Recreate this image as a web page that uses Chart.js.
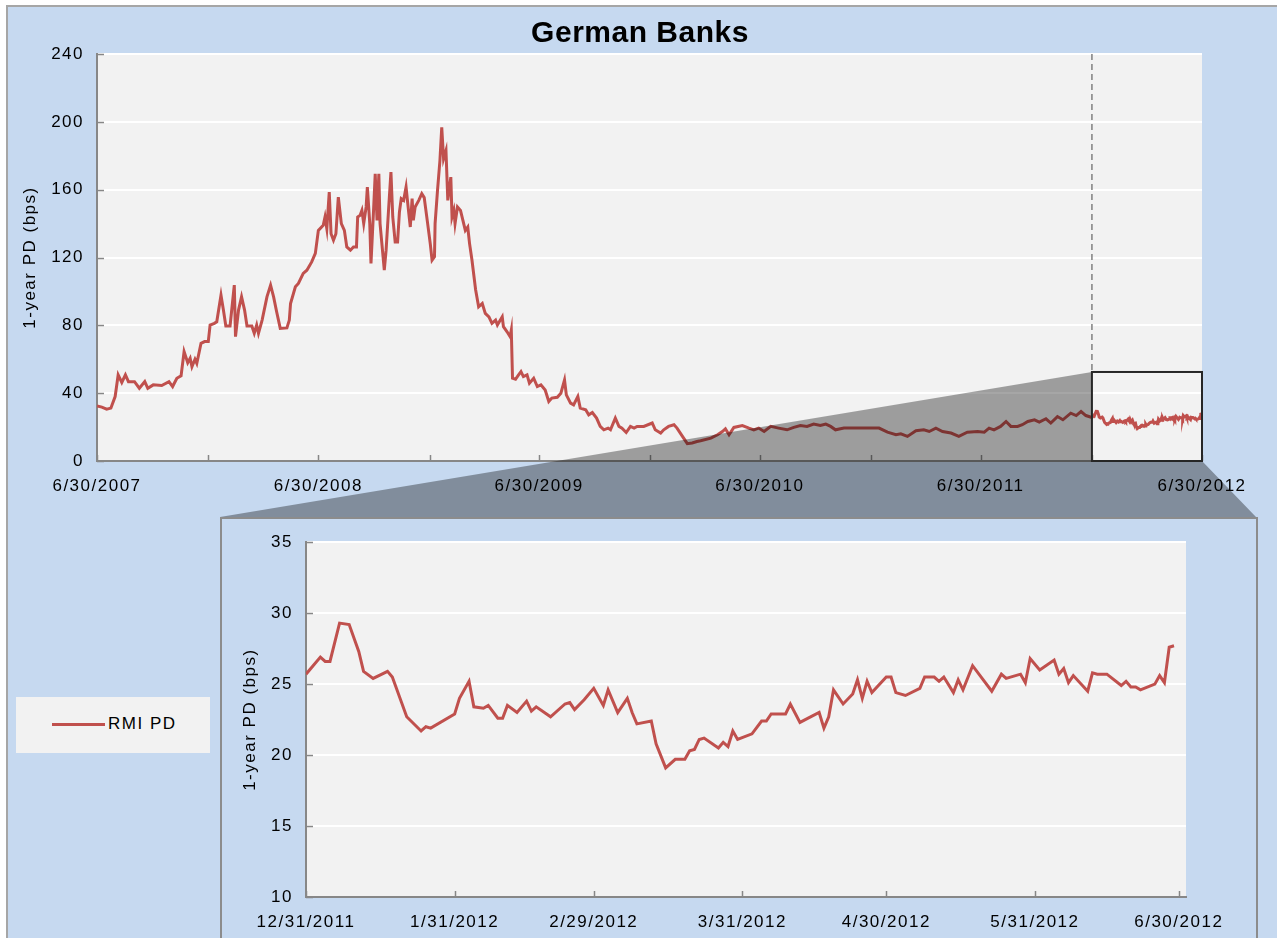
<!DOCTYPE html>
<html><head><meta charset="utf-8">
<script src="https://cdn.jsdelivr.net/npm/chart.js@4.4.1/dist/chart.umd.min.js"></script>
<style>
html,body{margin:0;padding:0;background:#fff;width:1277px;height:938px;overflow:hidden;font-family:'Liberation Sans',Arial,sans-serif;}
#frame{position:absolute;left:6px;top:5px;width:1280px;height:940px;background:#c6d9f0;border-left:2px solid #a6a6a6;border-top:2px solid #a6a6a6;}
#title{position:absolute;left:0;top:14px;width:1280px;text-align:center;font-weight:bold;font-size:30px;line-height:36px;letter-spacing:0.5px;color:#000;}
#mainWrap{position:absolute;left:0;top:0;width:1277px;height:520px;}
#inset{position:absolute;left:220px;top:517px;width:1034px;height:440px;background:#c6d9f0;border:2px solid #8c8c8c;}
#insetWrap{position:absolute;left:0;top:0;width:1034px;height:419px;}
#legend{position:absolute;left:16px;top:697px;width:194px;height:56px;background:#f2f2f2;}
#legend .sw{position:absolute;left:36px;top:26px;width:53px;height:3px;background:#c0504d;}
#legend .lt{position:absolute;left:92px;top:17px;font-size:17px;line-height:20px;letter-spacing:1.5px;color:#000;}
</style></head>
<body>
<div id="frame"></div>
<div id="mainWrap"><canvas id="mainChart"></canvas></div>
<div id="title"></div>
<div id="legend"><span class="sw"></span><span class="lt" id="legendText"></span></div>
<div id="inset"><div id="insetWrap"><canvas id="insetChart"></canvas></div></div>
<script>
const chartTitle = 'German Banks';
const seriesName = 'RMI PD';
const yTitle = '1-year PD (bps)';

// Main chart observations (6/30/2007 - 12/21/2011)
const mainDates = ['2007-06-30','2007-07-08','2007-07-16','2007-07-23','2007-07-30','2007-08-04','2007-08-10','2007-08-16','2007-08-21','2007-08-31','2007-09-08','2007-09-17','2007-09-22','2007-10-01','2007-10-15','2007-10-27','2007-11-02','2007-11-09','2007-11-16','2007-11-21','2007-11-27','2007-12-01','2007-12-04','2007-12-09','2007-12-12','2007-12-19','2007-12-25','2007-12-31',
'2008-01-03','2008-01-10','2008-01-14','2008-01-21','2008-01-25','2008-01-29','2008-02-05','2008-02-12','2008-02-14','2008-02-19','2008-02-24','2008-02-29','2008-03-04','2008-03-12','2008-03-16','2008-03-20','2008-03-23','2008-03-29','2008-04-06','2008-04-12','2008-04-17','2008-04-22','2008-04-28','2008-05-09','2008-05-13','2008-05-15','2008-05-23','2008-05-28','2008-06-05','2008-06-11','2008-06-19','2008-06-25','2008-06-30',
'2008-07-08','2008-07-11','2008-07-14','2008-07-18','2008-07-21','2008-07-25','2008-07-29','2008-08-02','2008-08-07','2008-08-12','2008-08-16','2008-08-22','2008-08-27','2008-09-01','2008-09-03','2008-09-07','2008-09-10','2008-09-13','2008-09-17','2008-09-19','2008-09-23','2008-09-25','2008-09-29','2008-10-02','2008-10-05','2008-10-08','2008-10-10','2008-10-13','2008-10-17','2008-10-20','2008-10-24','2008-10-28','2008-10-31','2008-11-04','2008-11-08','2008-11-11','2008-11-14','2008-11-18','2008-11-22','2008-11-26','2008-11-29','2008-12-02','2008-12-04','2008-12-07','2008-12-13','2008-12-18','2008-12-22','2008-12-27',
'2009-01-01','2009-01-04','2009-01-08','2009-01-09','2009-01-13','2009-01-17','2009-01-20','2009-01-23','2009-01-27','2009-01-30','2009-02-04','2009-02-06','2009-02-09','2009-02-11','2009-02-15','2009-02-20','2009-02-24','2009-02-28','2009-03-04','2009-03-07','2009-03-11','2009-03-17','2009-03-22','2009-03-28','2009-04-02','2009-04-08','2009-04-13','2009-04-19','2009-04-22','2009-04-30','2009-05-02','2009-05-08','2009-05-13','2009-05-15','2009-05-17','2009-05-22','2009-05-27','2009-05-31','2009-06-04','2009-06-10','2009-06-14','2009-06-21','2009-06-27',
'2009-07-03','2009-07-10','2009-07-16','2009-07-21','2009-07-30','2009-08-05','2009-08-11','2009-08-14','2009-08-21','2009-08-26','2009-09-02','2009-09-06','2009-09-15','2009-09-20','2009-09-26','2009-10-03','2009-10-09','2009-10-15','2009-10-22','2009-10-26','2009-11-03','2009-11-09','2009-11-14','2009-11-21','2009-11-28','2009-12-04','2009-12-09','2009-12-20',
'2010-01-03','2010-01-08','2010-01-17','2010-01-22','2010-01-30','2010-02-08','2010-02-13','2010-02-22','2010-03-02','2010-03-10','2010-03-18','2010-03-24','2010-04-10','2010-04-21','2010-04-29','2010-05-04','2010-05-10','2010-05-18','2010-06-01','2010-06-12','2010-06-20','2010-06-28','2010-07-07','2010-07-18','2010-07-31','2010-08-14','2010-08-25','2010-09-05','2010-09-16','2010-09-27','2010-10-08','2010-10-17','2010-10-25','2010-11-02','2010-11-16','2010-12-08','2010-12-30',
'2011-01-13','2011-01-27','2011-02-10','2011-02-18','2011-03-01','2011-03-15','2011-03-28','2011-04-06','2011-04-17','2011-04-28','2011-05-12','2011-05-25','2011-06-08','2011-06-25','2011-07-06','2011-07-14','2011-07-22','2011-08-02','2011-08-11','2011-08-19','2011-08-30','2011-09-07','2011-09-16','2011-09-27','2011-10-05','2011-10-16','2011-10-24','2011-11-04','2011-11-13','2011-11-26','2011-12-05','2011-12-13','2011-12-21'];
const mainValues = [32.5,31.8,30.6,31.2,38,50.8,46.3,50.8,46.8,46.8,42.9,46.8,42.9,44.9,44.5,46.8,43.9,48.8,50.2,64.5,58,60.6,55.6,60,57.6,69.4,70.4,70.4,
80.2,81.2,82.1,97.8,89,79.6,79.6,103.7,73.3,89,96.8,89,79.6,79.6,75.3,80.2,75.3,83.1,96.8,103.7,96.8,88,78.2,78.5,83.1,92.9,102.7,104.7,110.6,112.5,117.4,122.4,136,
139,143.9,137,158.6,134,130.2,134,155.6,140,136,126.2,124.3,126.2,126.2,143.9,144.9,147.8,140,149.8,161.5,140,116.5,145.9,169.4,141.9,169.4,140,128.2,112.5,124.3,147.8,170.4,143.9,129.2,129.2,146.8,154.7,153.7,161.5,147.8,138,154.7,141.9,149.8,153.7,157.6,155.3,141.9,
128.2,118.4,120.4,140,159.6,177.2,196.8,178.2,183.1,153.7,167.4,143.9,147.8,140,149.8,147.8,141.9,136,138,128.2,118.4,101,90.9,92.9,87,85,81.2,83.1,80.2,85,79.2,76.2,73.3,77.2,48.8,48.2,50.8,52.7,49.8,50.8,45.9,48.8,43.9,
44.9,41.9,35.1,37.1,37.6,40,47.8,39,34.1,33.1,38,31.2,30.2,27.2,28.6,25.3,20.4,18.4,19.4,18.4,25.3,20.4,19.4,16.8,20.4,19.4,20.4,20.4,
22.4,18.4,16.5,18.4,20.4,21.4,19.4,14.5,10.2,10.6,11.5,11.9,13.5,15.5,17.4,19,15.5,19.8,20.9,19.4,18.4,19.4,17.4,20.4,19.4,18.4,19.8,20.9,20.4,21.8,20.9,21.8,20.4,18.4,19.4,19.4,19.4,
19.4,17,15.5,16,14.5,17.8,18.4,17.4,19.4,17.4,16.5,14.5,17,17.4,17,19.4,18.4,20.4,23.3,20.4,20.4,21.4,23.3,24.3,22.9,24.9,22.4,26.2,24.3,28.2,26.8,29.2,26.8];

// Zoomed period observations (12/31/2011 - 6/29/2012)
const zoomDates = ['2011-12-31','2012-01-03','2012-01-04','2012-01-05','2012-01-07','2012-01-09','2012-01-11','2012-01-12','2012-01-14','2012-01-17','2012-01-18','2012-01-21','2012-01-24','2012-01-25','2012-01-26','2012-01-31','2012-02-01','2012-02-03','2012-02-04','2012-02-06','2012-02-07','2012-02-09','2012-02-10','2012-02-11','2012-02-13','2012-02-15','2012-02-16','2012-02-17','2012-02-20','2012-02-23','2012-02-24','2012-02-25','2012-02-27','2012-02-29','2012-03-02','2012-03-03','2012-03-05','2012-03-07','2012-03-08','2012-03-09','2012-03-12','2012-03-13','2012-03-15','2012-03-17','2012-03-19','2012-03-20','2012-03-21','2012-03-22','2012-03-23','2012-03-26','2012-03-27','2012-03-28','2012-03-29','2012-03-30','2012-04-02','2012-04-04','2012-04-05','2012-04-06','2012-04-09','2012-04-10','2012-04-12','2012-04-16','2012-04-17','2012-04-18','2012-04-19','2012-04-21','2012-04-23','2012-04-24','2012-04-25','2012-04-26','2012-04-27','2012-04-30','2012-05-01','2012-05-02','2012-05-04','2012-05-07','2012-05-08','2012-05-10','2012-05-11','2012-05-12','2012-05-14','2012-05-15','2012-05-16','2012-05-18','2012-05-22','2012-05-24','2012-05-25','2012-05-28','2012-05-29','2012-05-30','2012-06-01','2012-06-04','2012-06-05','2012-06-06','2012-06-07','2012-06-08','2012-06-11','2012-06-12','2012-06-13','2012-06-15','2012-06-18','2012-06-19','2012-06-20','2012-06-21','2012-06-22','2012-06-25','2012-06-26','2012-06-27','2012-06-28','2012-06-29'];
const zoomValues = [25.7,26.9,26.6,26.6,29.3,29.2,27.3,25.9,25.4,25.9,25.5,22.7,21.7,22.0,21.9,22.9,24.0,25.2,23.4,23.3,23.5,22.6,22.6,23.5,23.0,23.8,23.1,23.4,22.7,23.6,23.7,23.2,23.9,24.7,23.5,24.6,23.0,24.0,23.0,22.2,22.4,20.8,19.1,19.7,19.7,20.3,20.4,21.1,21.2,20.5,20.9,20.6,21.7,21.1,21.5,22.4,22.4,22.9,22.9,23.6,22.3,23.0,21.9,22.7,24.6,23.6,24.3,25.3,24.0,25.2,24.4,25.5,25.5,24.4,24.2,24.7,25.5,25.5,25.2,25.5,24.4,25.3,24.6,26.3,24.5,25.7,25.4,25.7,25.1,26.8,26.0,26.7,25.7,26.1,25.1,25.6,24.5,25.8,25.7,25.7,24.9,25.2,24.8,24.8,24.6,25.0,25.6,25.1,27.6,27.7];

// Axis ticks
const mainTickDates = ['2007-06-30','2007-12-31','2008-06-30','2008-12-31','2009-06-30','2009-12-31','2010-06-30','2010-12-31','2011-06-30','2011-12-31','2012-06-30'];
const mainTickLabels = ['6/30/2007','','6/30/2008','','6/30/2009','','6/30/2010','','6/30/2011','','6/30/2012'];
const mainYMin = 0, mainYMax = 240, mainYStep = 40;
const zoomTickDates = ['2011-12-31','2012-01-31','2012-02-29','2012-03-31','2012-04-30','2012-05-31','2012-06-30'];
const zoomTickLabels = ['12/31/2011','1/31/2012','2/29/2012','3/31/2012','4/30/2012','5/31/2012','6/30/2012'];
const zoomYMin = 10, zoomYMax = 35, zoomYStep = 5;
const zoomStart = '2011-12-31', zoomEnd = '2012-06-30', zoomBoxMax = 52.5;
const zoomAxisEndPad = 1.5; // days beyond last tick

const FONT = "'Liberation Sans', Arial, sans-serif";
const RED = '#c0504d';
const toDay = s => { const p = s.split('-').map(Number); return Date.UTC(p[0], p[1]-1, p[2]) / 86400000; };

document.getElementById('legendText').textContent = seriesName;
document.getElementById('title').textContent = chartTitle;

const plotBg = {
  id: 'plotBg',
  beforeDraw(chart) {
    const {ctx, chartArea: a} = chart;
    try { ctx.letterSpacing = '1.5px'; } catch (e) {}
    ctx.save(); ctx.fillStyle = '#f2f2f2'; ctx.fillRect(a.left, a.top, a.right - a.left, a.bottom - a.top); ctx.restore();
  }
};
const inwardTicks = {
  id: 'inwardTicks',
  beforeDatasetsDraw(chart) {
    const {ctx} = chart; const sx = chart.scales.x, sy = chart.scales.y;
    ctx.save(); ctx.strokeStyle = '#878787'; ctx.lineWidth = 1.5;
    ctx.beginPath();
    sx.ticks.forEach(t => { const px = Math.round(sx.getPixelForValue(t.value)) + 0.5; ctx.moveTo(px, sy.bottom); ctx.lineTo(px, sy.bottom - 6); });
    sy.ticks.forEach(t => { const py = Math.round(sy.getPixelForValue(t.value)) + 0.5; ctx.moveTo(sx.left, py); ctx.lineTo(sx.left + 7, py); });
    ctx.stroke(); ctx.restore();
  }
};
const zoomShade = {
  id: 'zoomShade',
  afterDatasetsDraw(chart) {
    const {ctx, chartArea: a} = chart; const sx = chart.scales.x, sy = chart.scales.y;
    const xL = sx.getPixelForValue(toDay(zoomStart)), xR = sx.getPixelForValue(toDay(zoomEnd));
    const yT = sy.getPixelForValue(zoomBoxMax), yB = sy.getPixelForValue(mainYMin);
    const r = document.getElementById('inset').getBoundingClientRect();
    const c = chart.canvas.getBoundingClientRect();
    const iL = r.left - c.left, iR = r.right - c.left, iT = r.top - c.top;
    ctx.save();
    ctx.fillStyle = 'rgba(0,0,0,0.35)';
    ctx.beginPath();
    ctx.moveTo(iL, iT); ctx.lineTo(xL, yT); ctx.lineTo(xL, yB); ctx.lineTo(xR, yB); ctx.lineTo(iR - 2, iT);
    ctx.closePath(); ctx.fill();
    ctx.strokeStyle = '#808080'; ctx.lineWidth = 1.5; ctx.setLineDash([6, 4]);
    ctx.beginPath(); ctx.moveTo(xL, a.top); ctx.lineTo(xL, yT); ctx.stroke();
    ctx.setLineDash([]);
    ctx.strokeStyle = '#262626'; ctx.lineWidth = 2;
    ctx.strokeRect(xL, yT, xR - xL, yB - yT);
    ctx.restore();
  }
};

function scaleOpts(opts) {
  return {
    x: {
      type: 'linear', min: opts.xMin, max: opts.xMax,
      afterBuildTicks(s) { s.ticks = opts.tickDates.map(d => ({value: toDay(d)})); },
      ticks: {autoSkip: false, maxRotation: 0, minRotation: 0, color: '#000', font: {size: 17, family: FONT}, padding: 15,
        callback: (v, i) => opts.tickLabels[i]},
      grid: {display: false, drawTicks: false},
      border: {display: true, color: '#878787', width: 2},
      afterFit(s) { s.height = opts.xH; }
    },
    y: {
      min: opts.yMin, max: opts.yMax,
      ticks: {stepSize: opts.yStep, color: '#000', font: {size: 17, family: FONT}, padding: 13},
      grid: {color: '#ffffff', lineWidth: 2, drawTicks: false},
      border: {display: true, color: '#878787', width: 2},
      title: {display: true, text: yTitle, color: '#000', font: {size: 17, family: FONT}, padding: {top: 4, bottom: 0}},
      afterFit(s) { s.width = opts.yW; }
    }
  };
}

const mainX = mainDates.concat(zoomDates).map(toDay);
const mainY = mainValues.concat(zoomValues);

new Chart(document.getElementById('mainChart'), {
  type: 'line',
  data: {datasets: [{label: seriesName, data: mainX.map((x, i) => ({x, y: mainY[i]})), borderColor: RED, borderWidth: 3, pointRadius: 0, tension: 0, fill: false}]},
  options: {
    responsive: true, maintainAspectRatio: false, animation: false, parsing: false,
    layout: {padding: {left: 16, right: 75, top: 54, bottom: 19}},
    plugins: {legend: {display: false}, tooltip: {enabled: false}},
    scales: scaleOpts({xMin: toDay(mainTickDates[0]), xMax: toDay(mainTickDates[mainTickDates.length-1]), tickDates: mainTickDates, tickLabels: mainTickLabels,
      yMin: mainYMin, yMax: mainYMax, yStep: mainYStep, xH: 40, yW: 81})
  },
  plugins: [plotBg, inwardTicks, zoomShade]
});

new Chart(document.getElementById('insetChart'), {
  type: 'line',
  data: {datasets: [{label: seriesName, data: zoomDates.map((d, i) => ({x: toDay(d), y: zoomValues[i]})), borderColor: RED, borderWidth: 3, pointRadius: 0, tension: 0, fill: false}]},
  options: {
    responsive: true, maintainAspectRatio: false, animation: false, parsing: false,
    layout: {padding: {left: 14, right: 70, top: 22, bottom: 11}},
    plugins: {legend: {display: false}, tooltip: {enabled: false}},
    scales: scaleOpts({xMin: toDay(zoomTickDates[0]), xMax: toDay(zoomTickDates[zoomTickDates.length-1]) + zoomAxisEndPad, tickDates: zoomTickDates, tickLabels: zoomTickLabels,
      yMin: zoomYMin, yMax: zoomYMax, yStep: zoomYStep, xH: 30, yW: 70})
  },
  plugins: [plotBg, inwardTicks]
});
</script>
</body></html>
